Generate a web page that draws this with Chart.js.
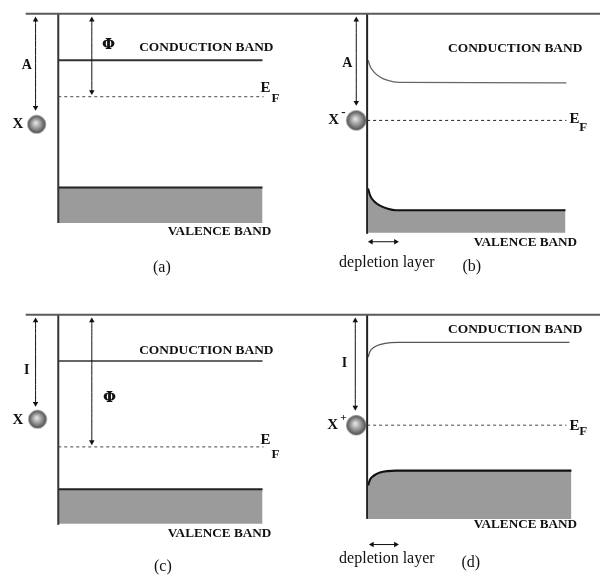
<!DOCTYPE html>
<html><head><meta charset="utf-8">
<script src="https://cdn.jsdelivr.net/npm/chart.js@4.4.1/dist/chart.umd.min.js"></script>
<style>html,body{margin:0;padding:0;background:#fff;}canvas{display:block;}</style>
</head><body>
<canvas id="c" width="604" height="588"></canvas>
<script>
// ---- diagram data (diagram units; scales map 1 unit = 1 px) ----
const vacuumAB = [{x:22,y:10},{x:604,y:10}];
const vacuumCD = [{x:22,y:315},{x:604,y:315}];
const surfaceA = [{x:55,y:10},{x:55,y:222}];
const surfaceB = [{x:368,y:10},{x:368,y:233}];
const surfaceC = [{x:55,y:315},{x:55,y:528}];
const surfaceD = [{x:368,y:315},{x:368,y:522}];

const conductionA = [{x:55,y:57},{x:262,y:57}];
const conductionC = [{x:55,y:362},{x:262,y:362}];
const conductionB = [{x:369,y:57},{x:371,y:63},{x:375,y:69},{x:381,y:74},{x:389,y:77.5},{x:400,y:79.5},{x:570,y:80}];
const conductionD = [{x:369,y:358},{x:371,y:352},{x:375,y:348},{x:382,y:345},{x:392,y:343.3},{x:400,y:343},{x:573,y:343}];

const valenceA = [{x:55,y:186},{x:262,y:186}];
const valenceC = [{x:55,y:492},{x:262,y:492}];
const valenceB = [{x:369,y:187},{x:371,y:194},{x:375,y:200},{x:381,y:204.5},{x:389,y:207.5},{x:397,y:209},{x:569,y:209}];
const valenceD = [{x:369,y:488},{x:371,y:482},{x:375,y:478},{x:381,y:475},{x:389,y:473.5},{x:397,y:473},{x:575,y:473}];
const valenceFloor = [222, 232, 527, 522]; // a, b, c, d

const fermiA = [{x:55,y:94},{x:263,y:94}];
const fermiB = [{x:368,y:118},{x:570,y:118}];
const fermiC = [{x:55,y:449},{x:263,y:449}];
const fermiD = [{x:368,y:427},{x:570,y:427}];

const arrowAa = [{x:32,y:16},{x:32,y:105}];
const arrowPhiA = [{x:89,y:16},{x:89,y:89}];
const arrowAb = [{x:357,y:16},{x:357,y:100}];
const arrowIc = [{x:32,y:321},{x:32,y:405}];
const arrowPhiC = [{x:89,y:321},{x:89,y:444}];
const arrowId = [{x:356,y:321},{x:356,y:409}];
const depletionB = [{x:372,y:241},{x:397,y:241}];
const depletionD = [{x:373,y:548},{x:397,y:548}];

const atomsSmall = [{x:33,y:122},{x:34,y:421}];
const atomsLarge = [{x:357,y:118},{x:357,y:427}];

const labels = [
  ['CONDUCTION BAND',137,44,'bold 13.4px','left'],
  ['CONDUCTION BAND',450,45,'bold 13.4px','left'],
  ['CONDUCTION BAND',137,351,'bold 13.4px','left'],
  ['CONDUCTION BAND',450,330,'bold 13.4px','left'],
  ['VALENCE BAND',166,231,'bold 13.2px','left'],
  ['VALENCE BAND',476,242,'bold 13.2px','left'],
  ['VALENCE BAND',166,537,'bold 13.2px','left'],
  ['VALENCE BAND',476,528,'bold 13.2px','left'],
  ['E',260,85,'bold 15px','left'],['F',271,96,'bold 13px','left'],
  ['E',573,117,'bold 15px','left'],['F',583,125,'bold 13px','left'],
  ['E',260,442,'bold 15px','left'],['F',271,457,'bold 13px','left'],
  ['E',573,428,'bold 15px','left'],['F',583,434,'bold 13px','left'],
  ['Φ',106,42,'bold 15px','center','"DejaVu Serif", serif'],
  ['Φ',107,400,'bold 15px','center','"DejaVu Serif", serif'],
  ['A',23,62,'bold 14px','center'],
  ['A',348,60,'bold 14px','center'],
  ['I',23,371,'bold 14px','center'],
  ['I',345,364,'bold 14px','center'],
  ['X',14,122,'bold 15px','center'],
  ['X',334,118,'bold 15px','center'],['-',344,110,'bold 13px','center'],
  ['X',14,422,'bold 15px','center'],
  ['X',333,427,'bold 15px','center'],['+',344,420,'bold 11px','center'],
  ['depletion layer',388,262,'16px','center'],
  ['depletion layer',388,562,'16px','center'],
  ['(a)',160,267,'16px','center'],
  ['(b)',474,266,'16px','center'],
  ['(c)',161,571,'16px','center'],
  ['(d)',473,567,'16px','center']
];

// ---- rendering ----
function sphere(r){
  const c=document.createElement('canvas');
  const s=Math.ceil(2*r+2); c.width=s; c.height=s;
  const g=c.getContext('2d');
  const cx=s/2, cy=s/2;
  const grad=g.createRadialGradient(cx-r*0.12,cy-r*0.18,0,cx,cy,r);
  grad.addColorStop(0,'#ededed'); grad.addColorStop(0.55,'#989898'); grad.addColorStop(1,'#505050');
  g.beginPath(); g.arc(cx,cy,r,0,Math.PI*2); g.fillStyle=grad; g.fill();
  g.lineWidth=0.8; g.strokeStyle='#555'; g.stroke();
  return c;
}
function line(data,color,width,extra){
  return Object.assign({data,showLine:true,borderColor:color,borderWidth:width,pointRadius:0,fill:false,
    cubicInterpolationMode:'monotone'},extra||{});
}
function arrow(data,vertical){
  return line(data,'#111',1,{pointStyle:'triangle',pointRadius:3.2,pointBorderWidth:0,
    pointBackgroundColor:'#111',pointRotation:vertical?[0,180]:[270,90]});
}
const FILL='#9b9b9b';
const datasets=[
  {data:atomsSmall,showLine:false,pointStyle:sphere(8.8)},
  {data:atomsLarge,showLine:false,pointStyle:sphere(9.6)},
  arrow(arrowAa,true),arrow(arrowPhiA,true),arrow(arrowAb,true),
  arrow(arrowIc,true),arrow(arrowPhiC,true),arrow(arrowId,true),
  arrow(depletionB,false),arrow(depletionD,false),
  line(vacuumAB,'#5a5a5a',2),line(vacuumCD,'#5a5a5a',2),
  line(surfaceA,'#333',2),line(surfaceB,'#222',2),line(surfaceC,'#333',2),line(surfaceD,'#222',2),
  line(conductionA,'#333',2),line(conductionC,'#333',1.5),
  line(conductionB,'#666',1.3),line(conductionD,'#555',1.3),
  line(fermiA,'#444',1,{borderDash:[3,3]}),line(fermiB,'#222',1,{borderDash:[3,3]}),
  line(fermiC,'#444',1,{borderDash:[3,3]}),line(fermiD,'#444',1,{borderDash:[3,3]}),
  line(valenceA,'#222',2,{fill:{value:valenceFloor[0]},backgroundColor:FILL}),
  line(valenceB,'#111',2,{fill:{value:valenceFloor[1]},backgroundColor:FILL}),
  line(valenceC,'#222',2,{fill:{value:valenceFloor[2]},backgroundColor:FILL}),
  line(valenceD,'#111',2.2,{fill:{value:valenceFloor[3]},backgroundColor:FILL})
];
const textPlugin={id:'texts',afterDatasetsDraw(chart){
  const ctx=chart.ctx,sx=chart.scales.x,sy=chart.scales.y;
  ctx.save(); ctx.fillStyle='#111'; ctx.textBaseline='middle';
  for(const [t,x,y,f,a,fam] of labels){
    ctx.font=f+' '+(fam||'"Liberation Serif", "Times New Roman", serif');
    ctx.textAlign=a; ctx.fillText(t,sx.getPixelForValue(x),sy.getPixelForValue(y));
  }
  ctx.restore();
}};
new Chart(document.getElementById('c'),{
  type:'scatter',
  data:{datasets},
  options:{responsive:false,animation:false,devicePixelRatio:1,
    layout:{padding:0},
    scales:{x:{type:'linear',min:0,max:604,display:false},
            y:{type:'linear',min:0,max:588,reverse:true,display:false}},
    plugins:{legend:{display:false},tooltip:{enabled:false}},
    elements:{point:{hoverRadius:0}}
  },
  plugins:[textPlugin]
});
</script>
</body></html>
